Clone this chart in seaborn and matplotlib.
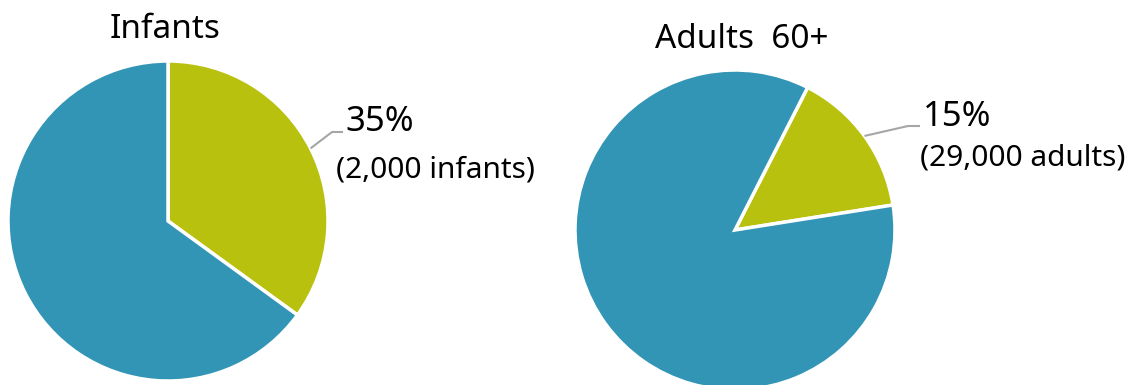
import numpy as np
import matplotlib
matplotlib.use("Agg")
import matplotlib.pyplot as plt
import seaborn as sns

# ---- data ----
groups = ["Infants", "Adults  60+"]
shares_infants = [35, 65]
shares_adults = [15, 85]
count_labels = ["(2,000 infants)", "(29,000 adults)"]
pct_labels = ["35%", "15%"]
start_angles = [90, 63]

sns.set_theme(style="white")
plt.rcParams["font.family"] = ["Noto Sans", "DejaVu Sans"]

palette = sns.color_palette(["#B8C10D", "#3295B5"])

W, H = 1131, 385
fig = plt.figure(figsize=(W / 100, H / 100), dpi=100)
ax = fig.add_axes([0, 0, 1, 1])

# layout (pixel space, y measured upward, text positions are baselines)
centers = [(168, 164), (735, 155)]
radius = 160
title_pos = [(165, 347), (742, 337)]
pct_pos = [(345, 254), (923, 259)]
cnt_pos = [(336, 207), (920, 220)]
leader_y = [253, 259]
elbow_x = [332, 908]
leader_end = [343, 920]

for i, vals in enumerate([shares_infants, shares_adults]):
    wedges, _ = ax.pie(vals, colors=palette, startangle=start_angles[i],
                       counterclock=False, center=centers[i], radius=radius,
                       wedgeprops=dict(edgecolor="white", linewidth=2.5),
                       frame=True)
    w = wedges[0]
    mid = np.deg2rad((w.theta1 + w.theta2) / 2)
    cx, cy = centers[i]
    ax_pt = (cx + radius * np.cos(mid), cy + radius * np.sin(mid))
    ax.plot([ax_pt[0], elbow_x[i], leader_end[i]],
            [ax_pt[1], leader_y[i], leader_y[i]],
            color="#A6A6A6", lw=1.5, solid_capstyle="butt")
    ax.text(pct_pos[i][0], pct_pos[i][1], pct_labels[i], fontsize=25,
            ha="left", va="baseline", color="black")
    ax.text(cnt_pos[i][0], cnt_pos[i][1], count_labels[i], fontsize=21.5,
            ha="left", va="baseline", color="black")
    ax.text(title_pos[i][0], title_pos[i][1], groups[i], fontsize=24,
            ha="center", va="baseline", color="black")

ax.set_xlim(0, W)
ax.set_ylim(0, H)
ax.set_aspect("equal")
ax.axis("off")

fig.savefig("out.png", dpi=100, facecolor="white")
